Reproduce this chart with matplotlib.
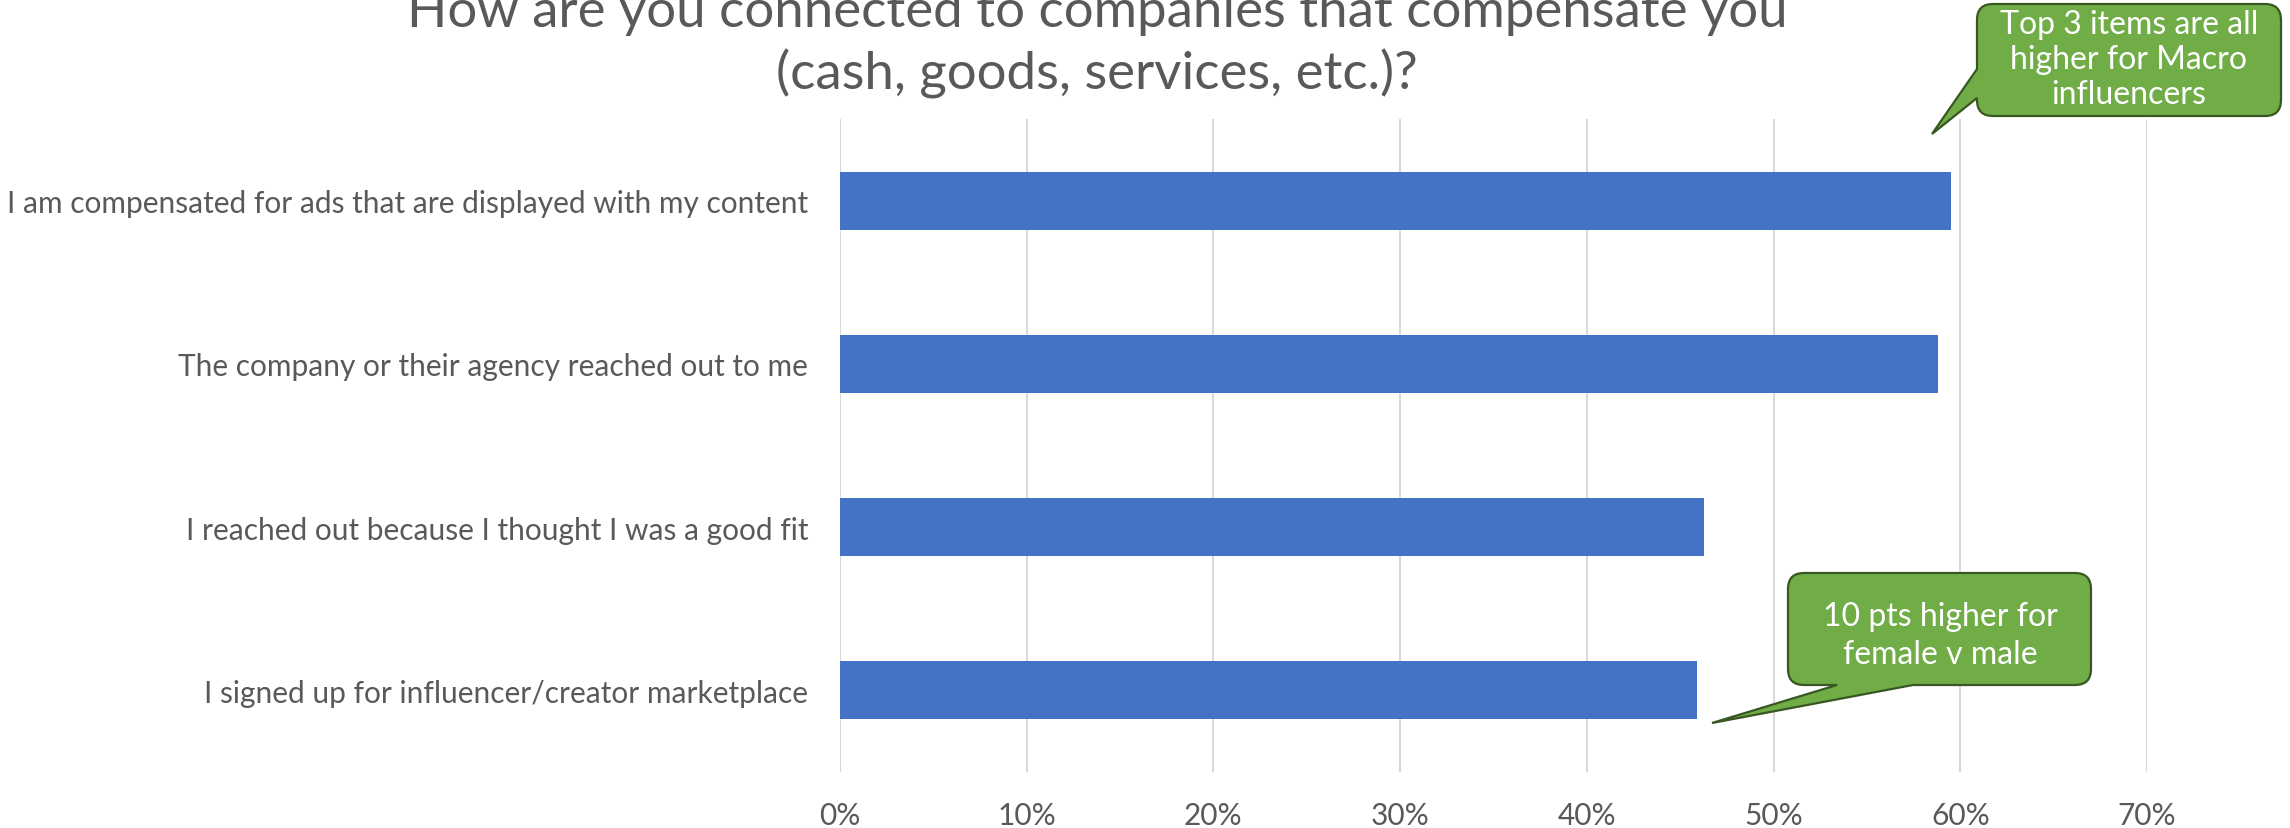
import matplotlib.pyplot as plt
from matplotlib.path import Path
from matplotlib.patches import PathPatch
from matplotlib.transforms import Affine2D
from matplotlib.ticker import FuncFormatter

W, H = 2290, 829

# survey answers, top to bottom
answers = ['I am compensated for ads that are displayed with my content',
           'The company or their agency reached out to me',
           'I reached out because I thought I was a good fit',
           'I signed up for influencer/creator marketplace']
shares = [0.595, 0.588, 0.463, 0.459]
ticks = [0.0, 0.1, 0.2, 0.3, 0.4, 0.5, 0.6, 0.7]

title = 'How are you connected to companies that compensate you\n(cash, goods, services, etc.)?'
note_top = 'Top 3 items are all\nhigher for Macro\ninfluencers'
note_bottom = '10 pts higher for\nfemale v male'

GREY = '#595959'
BLUE = '#4472C4'
GREEN = '#70AD47'
DARK_GREEN = '#385723'

plt.rcParams['font.family'] = ['Lato', 'DejaVu Sans']


def callout(fig, box, tip, side, base, r=16):
    # rounded box with a pointed tail; coordinates are pixels from the top-left
    x0, y0, x1, y1 = box
    verts = [(x0 + r, y0), (x1 - r, y0), (x1, y0), (x1, y0 + r),
             (x1, y1 - r), (x1, y1), (x1 - r, y1)]
    codes = [Path.MOVETO, Path.LINETO, Path.CURVE3, Path.CURVE3,
             Path.LINETO, Path.CURVE3, Path.CURVE3]
    if side == 'bottom':
        verts += [(base[1], y1), tip, (base[0], y1)]
        codes += [Path.LINETO] * 3
    verts += [(x0 + r, y1), (x0, y1), (x0, y1 - r)]
    codes += [Path.LINETO, Path.CURVE3, Path.CURVE3]
    if side == 'left':
        verts += [(x0, base[1]), tip, (x0, base[0])]
        codes += [Path.LINETO] * 3
    verts += [(x0, y0 + r), (x0, y0), (x0 + r, y0), (x0 + r, y0)]
    codes += [Path.LINETO, Path.CURVE3, Path.CURVE3, Path.CLOSEPOLY]
    verts = [(x, H - y) for x, y in verts]
    tr = Affine2D().scale(1.0 / W, 1.0 / H) + fig.transFigure
    patch = PathPatch(Path(verts, codes), facecolor=GREEN, edgecolor=DARK_GREEN,
                      linewidth=1.6, transform=tr, clip_on=False, zorder=5)
    fig.patches.append(patch)


fig = plt.figure(figsize=(W / 100, H / 100), dpi=100)
ax = fig.add_axes([840 / W, 1 - 773 / H, 1307 / W, 653 / H])

pos = list(range(len(answers)))
ax.barh(pos, shares, height=0.355, color=BLUE, zorder=3)
ax.set_yticks(pos)
ax.set_yticklabels(answers)
ax.set_ylim(len(answers) - 0.5, -0.5)

ax.set_xlim(0, 0.7)
ax.set_xticks(ticks)
ax.xaxis.set_major_formatter(FuncFormatter(lambda v, p: '{:.0f}%'.format(v * 100)))
ax.grid(axis='x', color='#D9D9D9', linewidth=1.5, zorder=0)
ax.tick_params(axis='both', length=0, labelsize=21.5, labelcolor=GREY)
ax.tick_params(axis='y', pad=23)
ax.tick_params(axis='x', pad=21)
for s in ax.spines.values():
    s.set_visible(False)

fig.text(1097 / W, 1 - 44 / H, title, ha='center', va='center',
         fontsize=38, color=GREY, linespacing=1.33)

callout(fig, (1977, 5, 2281, 117), (1932, 135), 'left', (70, 99))
fig.text(2129 / W, 1 - 60 / H, note_top, ha='center', va='center',
         fontsize=23, color='white', linespacing=1.2, zorder=6)

callout(fig, (1788, 574, 2091, 686), (1712, 724), 'bottom', (1837, 1913))
fig.text(1940 / W, 1 - 636 / H, note_bottom, ha='center', va='center',
         fontsize=23, color='white', linespacing=1.3, zorder=6)

fig.savefig('out.png', dpi=100)
